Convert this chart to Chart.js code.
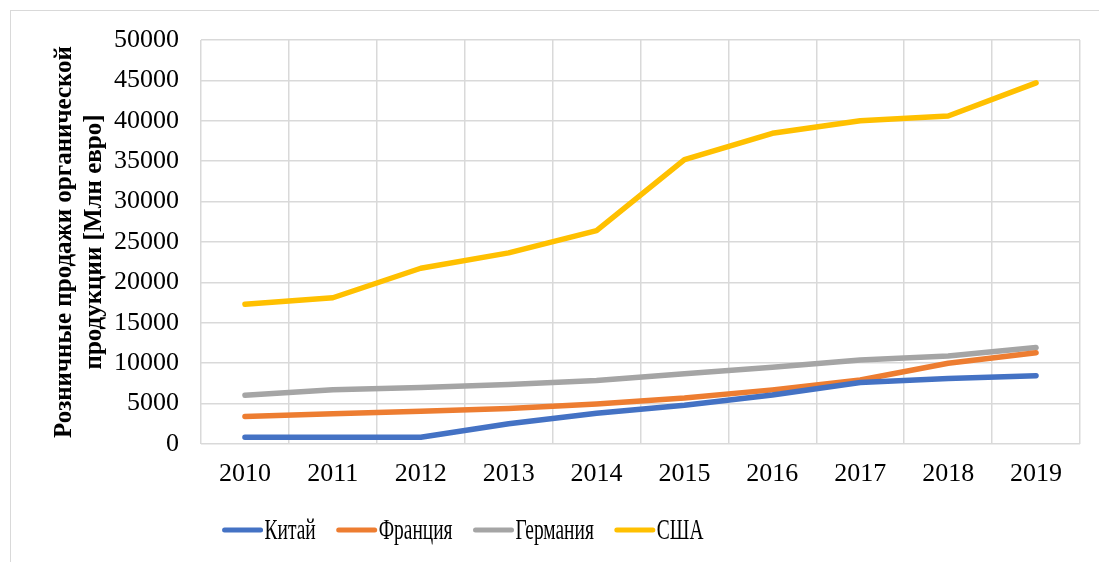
<!DOCTYPE html>
<html>
<head>
<meta charset="utf-8">
<script src="https://cdn.jsdelivr.net/npm/chart.js@4/dist/chart.umd.min.js"></script>
<style>
  html,body{margin:0;padding:0;background:#fff}
  #wrap{position:relative;width:1099px;height:562px}
</style>
</head>
<body>
<div id="wrap"><canvas id="chart"></canvas></div>
<script>
/* Розничные продажи органической продукции, 2010–2019 */

var YEARS=['2010','2011','2012','2013','2014','2015','2016','2017','2018','2019'];
var CHINA  =[830,830,830,2500,3800,4800,6070,7600,8100,8460];
var FRANCE =[3400,3750,4050,4400,4950,5700,6700,7920,10000,11300];
var GERMANY=[6030,6700,7000,7350,7850,8700,9500,10400,10900,11950];
var USA    =[17300,18100,21750,23650,26400,35200,38450,40000,40600,44700];
var SERIES_NAMES=['Китай','Франция','Германия','США'];
var SERIES_COLORS=['#4472C4','#ED7D31','#A5A5A5','#FFC000'];
var Y_TITLE=['Розничные продажи органической','продукции [Млн евро]'];

var FONT='"Liberation Serif","Times New Roman",serif';
var GRID='#D9D9D9';

// frame round the chart
var framePlugin={
  id:'frame',
  beforeDraw:function(c){
    var ctx=c.ctx;
    ctx.save();
    ctx.strokeStyle=GRID;ctx.lineWidth=1;
    ctx.strokeRect(10.5,10.5,c.width+20,c.height+20);
    ctx.restore();
  }
};

// legend drawn by hand: line swatch + narrow serif text
var legendPlugin={
  id:'lineLegend',
  afterDraw:function(c){
    var ctx=c.ctx,y=530,sw=40,gap=2,sp=21,sx=0.67;
    ctx.save();
    ctx.font='29px '+FONT;
    ctx.textBaseline='middle';
    var widths=c.data.datasets.map(function(d){return ctx.measureText(d.label).width*sx;});
    var total=0;
    widths.forEach(function(w,i){total+=sw+gap+w+(i<widths.length-1?sp:0);});
    var x=463-total/2;
    c.data.datasets.forEach(function(d,i){
      ctx.strokeStyle=d.borderColor;ctx.lineWidth=5;ctx.lineCap='round';
      ctx.beginPath();ctx.moveTo(x+2,y);ctx.lineTo(x+sw-2,y);ctx.stroke();
      ctx.save();
      ctx.translate(x+sw+gap,y+1);ctx.scale(sx,1);
      ctx.fillStyle='#000';ctx.fillText(d.label,0,0);
      ctx.restore();
      x+=sw+gap+widths[i]+sp;
    });
    ctx.restore();
  }
};

var values=[CHINA,FRANCE,GERMANY,USA];
var datasets=SERIES_NAMES.map(function(n,i){
  return {label:n,data:values[i],borderColor:SERIES_COLORS[i],backgroundColor:SERIES_COLORS[i],
    borderWidth:5.5,pointRadius:0,tension:0,borderCapStyle:'round',borderJoinStyle:'round',fill:false};
});

new Chart(document.getElementById('chart'),{
  type:'line',
  data:{labels:YEARS,datasets:datasets},
  options:{
    responsive:true,maintainAspectRatio:false,animation:false,
    layout:{padding:{left:10,top:40,right:19,bottom:58}},
    plugins:{legend:{display:false},tooltip:{enabled:false}},
    scales:{
      x:{
        offset:true,
        grid:{color:GRID,lineWidth:1.5,offset:true,drawTicks:false},
        border:{display:false},
        ticks:{color:'#000',font:{family:FONT,size:26},padding:15,maxRotation:0},
        afterFit:function(s){s.height=60;}
      },
      y:{
        min:0,max:50000,
        grid:{color:GRID,lineWidth:1.5,drawTicks:false},
        border:{display:false},
        ticks:{stepSize:5000,color:'#000',font:{family:FONT,size:26},padding:22,
          callback:function(v){return String(v);}},
        title:{display:true,text:Y_TITLE,color:'#000',font:{family:FONT,size:25,weight:'bold',lineHeight:30/25},padding:{top:40,bottom:0}},
        afterFit:function(s){s.width=191;}
      }
    }
  },
  plugins:[framePlugin,legendPlugin]
});
</script>
</body>
</html>
